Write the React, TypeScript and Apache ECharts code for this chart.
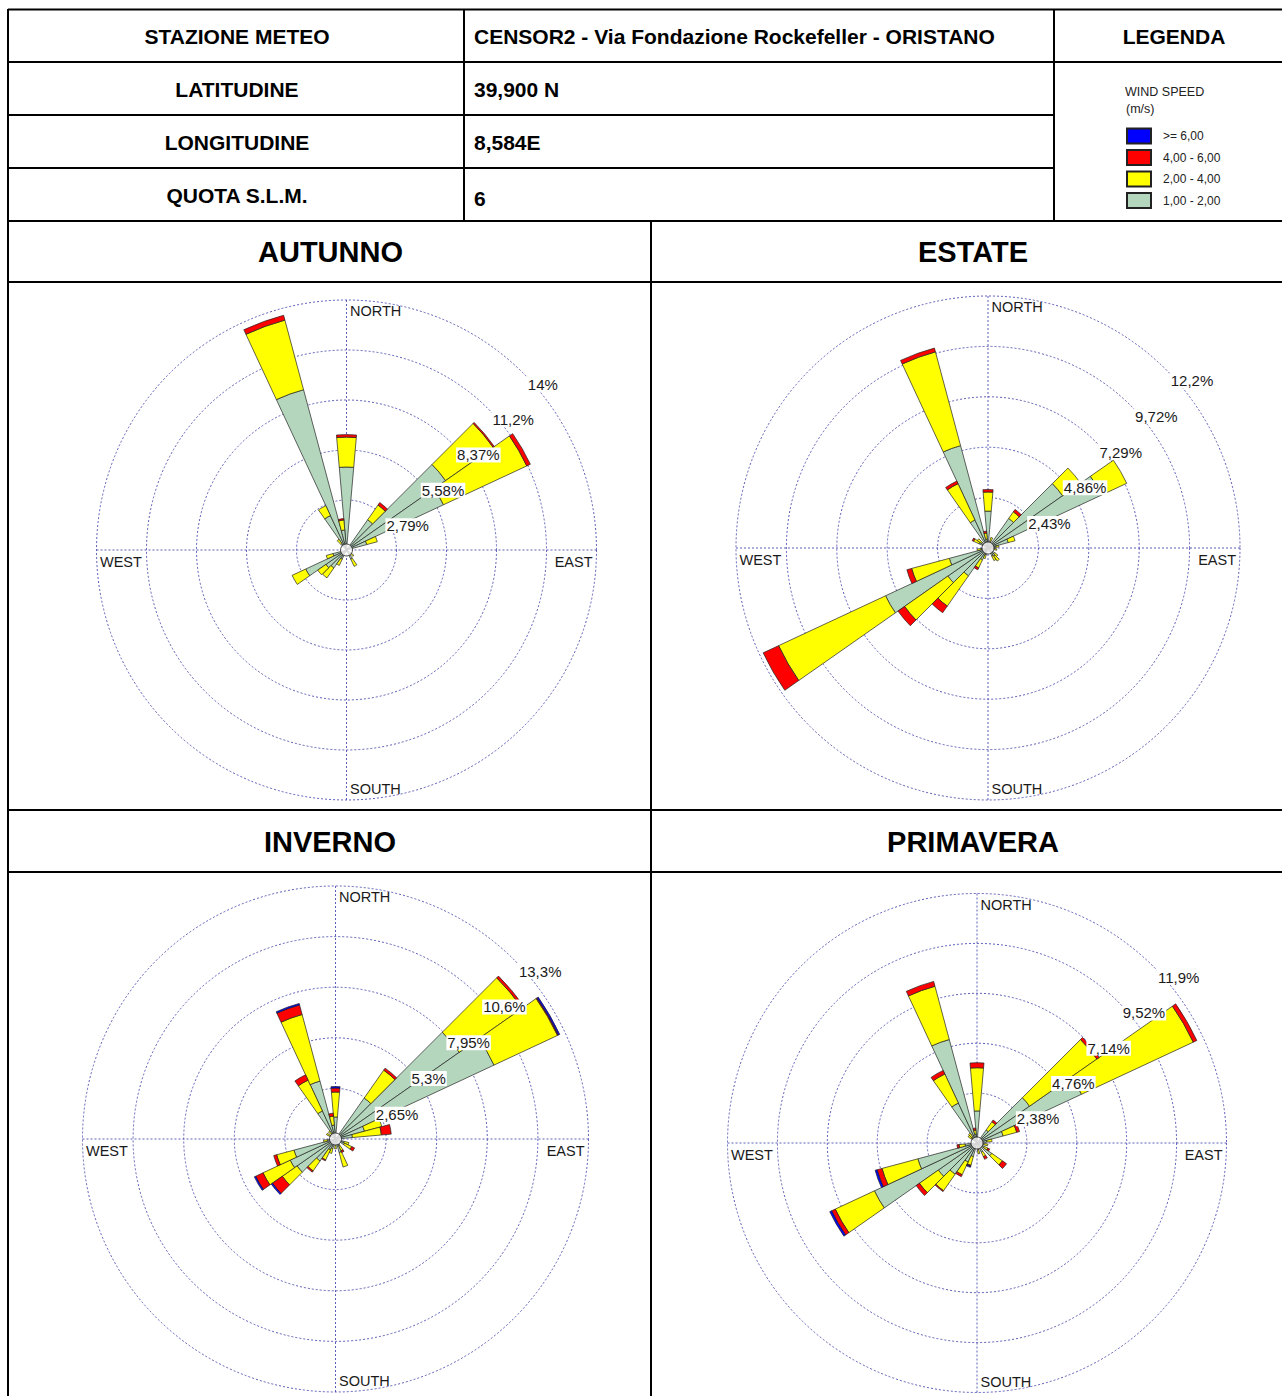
import React, { useEffect, useRef } from 'react';
import * as echarts from 'echarts';

const FONT = "'Liberation Sans', Arial, Helvetica, sans-serif";

// 36 wind directions (degrees clockwise from North)
const directions = [
  '0', '10', '20', '30', '40', '50', '60', '70', '80', '90',
  '100', '110', '120', '130', '140', '150', '160', '170', '180', '190',
  '200', '210', '220', '230', '240', '250', '260', '270', '280', '290',
  '300', '310', '320', '330', '340', '350',
];

const speedClasses = ['1,00 - 2,00', '2,00 - 4,00', '4,00 - 6,00', '>= 6,00'];
const legendOrder = ['>= 6,00', '4,00 - 6,00', '2,00 - 4,00', '1,00 - 2,00'];
const speedColors = ['#b4d6bd', '#ffff00', '#ff0000', '#0000ff'];
const compassLabels = ['NORTH', 'EAST', 'SOUTH', 'WEST'];

// ---------- AUTUNNO (frequency %) ----------
const autGreen = [4.63, 0, 0, 0, 2.06, 6.75, 5.97, 1.17, 0, 0, 0, 0, 0, 0.28, 0, 0.56, 0, 0, 0, 0, 0, 0.56, 1.23, 1.4, 2.51, 0.78, 0, 0, 0, 0, 0, 0, 0.45, 2.12, 9.26, 1.12];
const autYellow = [1.67, 0, 0, 0, 1.0, 3.24, 5.13, 0.61, 0, 0, 0, 0, 0, 0.22, 0, 0.45, 0, 0, 0, 0, 0, 0.39, 0.67, 0.56, 0.84, 0.39, 0, 0, 0, 0, 0, 0, 0.28, 0.61, 4.02, 0.56];
const autRed = [0.14, 0, 0, 0, 0.17, 0.08, 0.22, 0, 0, 0, 0, 0, 0, 0, 0, 0, 0, 0, 0, 0, 0, 0, 0, 0, 0, 0, 0, 0, 0, 0, 0, 0, 0, 0, 0.28, 0.08];
const autBlue = [0, 0, 0, 0, 0, 0, 0, 0, 0, 0, 0, 0, 0, 0, 0, 0, 0, 0, 0, 0, 0, 0, 0, 0, 0, 0, 0, 0, 0, 0, 0, 0, 0, 0, 0, 0];
const autTicks = ['2,79%', '5,58%', '8,37%', '11,2%', '14%'];

// ---------- ESTATE ----------
const estGreen = [1.78, 0, 0.34, 0, 1.74, 4.39, 6.03, 1.01, 0.39, 0, 0.29, 0, 0, 0.39, 0.48, 0.43, 0, 0, 0, 0, 0.34, 0.63, 1.64, 2.36, 5.45, 1.93, 0.34, 0, 0, 0, 0.48, 0.39, 0, 1.49, 5.11, 0.43];
const estYellow = [0.92, 0, 0.19, 0, 0.39, 1.06, 1.35, 0.34, 0.14, 0, 0.14, 0, 0, 0.19, 0.29, 0.24, 0, 0, 0, 0, 0.19, 0.43, 1.78, 2.55, 5.69, 1.88, 0.19, 0, 0, 0, 0.29, 0.24, 0, 1.93, 4.68, 0.29];
const estRed = [0.12, 0, 0, 0, 0.14, 0, 0, 0, 0, 0, 0, 0, 0, 0, 0, 0, 0, 0, 0, 0, 0, 0.1, 0.39, 0.39, 0.82, 0.24, 0, 0, 0, 0, 0.07, 0, 0, 0.14, 0.19, 0.1];
const estBlue = [0, 0, 0, 0, 0, 0, 0, 0, 0, 0, 0, 0, 0, 0, 0, 0, 0, 0, 0, 0, 0, 0, 0, 0, 0, 0, 0, 0, 0, 0, 0, 0, 0, 0, 0, 0];
const estTicks = ['2,43%', '4,86%', '7,29%', '9,72%', '12,2%'];

// ---------- INVERNO ----------
const invGreen = [1.15, 0, 0, 0, 2.62, 7.91, 9.16, 1.57, 0.89, 0, 0, 0.47, 0.52, 0, 0, 0.42, 0.73, 0, 0.31, 0, 0.52, 0.63, 1.41, 2.46, 2.62, 2.25, 0.42, 0, 0, 0, 0.31, 0, 0.31, 1.62, 3.14, 0.73];
const invYellow = [1.31, 0, 0, 0, 1.78, 4.03, 3.67, 0.94, 1.52, 0, 0, 0.26, 0.42, 0, 0, 0.26, 0.79, 0, 0.21, 0, 0.26, 0.58, 0.63, 0.94, 1.57, 0.94, 0.21, 0, 0, 0, 0.21, 0, 0.21, 1.78, 3.61, 0.47];
const invRed = [0.21, 0, 0, 0, 0.13, 0.13, 0.05, 0, 0.52, 0, 0, 0, 0.16, 0, 0, 0.1, 0, 0, 0, 0, 0, 0.05, 0.08, 0.63, 0.42, 0.16, 0, 0, 0, 0, 0, 0, 0, 0.31, 0.52, 0.16];
const invBlue = [0.08, 0, 0, 0, 0, 0, 0.08, 0, 0, 0, 0, 0, 0, 0, 0, 0, 0, 0, 0, 0, 0, 0, 0, 0.08, 0.08, 0, 0, 0, 0, 0, 0, 0, 0, 0, 0.08, 0];
const invTicks = ['2,65%', '5,3%', '7,95%', '10,6%', '13,3%'];

// ---------- PRIMAVERA ----------
const priGreen = [1.53, 0, 0, 0, 0.76, 3.06, 5.5, 1.29, 0.48, 0, 0.33, 0, 0.38, 0.86, 0, 0.48, 0, 0.33, 0, 0, 0.67, 1.0, 1.82, 2.25, 5.4, 2.92, 0.57, 0, 0, 0, 0, 0.33, 0.33, 2.1, 5.11, 0.43];
const priYellow = [2.06, 0, 0, 0, 0.48, 3.92, 5.88, 0.67, 0.24, 0, 0.19, 0, 0.19, 0.62, 0, 0.24, 0, 0.19, 0, 0, 0.43, 0.67, 0.96, 1.1, 2.06, 1.77, 0.29, 0, 0, 0, 0, 0.19, 0.24, 1.53, 2.63, 0.19];
const priRed = [0.24, 0, 0, 0, 0.1, 0.14, 0.19, 0.14, 0, 0, 0, 0, 0.1, 0.24, 0, 0.14, 0, 0, 0, 0, 0.05, 0.1, 0.05, 0.19, 0.19, 0.24, 0.1, 0, 0, 0, 0, 0, 0, 0.19, 0.24, 0.1];
const priBlue = [0, 0, 0, 0, 0, 0, 0, 0, 0, 0, 0, 0, 0, 0, 0, 0, 0, 0, 0, 0, 0.05, 0, 0, 0, 0.1, 0.1, 0, 0, 0, 0, 0, 0, 0, 0, 0, 0];
const priTicks = ['2,38%', '4,76%', '7,14%', '9,52%', '11,9%'];

// ---------- station table ----------
const tableLabels = ['STAZIONE METEO', 'LATITUDINE', 'LONGITUDINE', 'QUOTA S.L.M.'];
const tableValues = ['CENSOR2 - Via Fondazione Rockefeller - ORISTANO', '39,900 N', '8,584E', '6'];

const seasons = [
  { title: 'AUTUNNO', cx: 346.5, cy: 550, r: 250, max: 13.95, ticks: autTicks, data: [autGreen, autYellow, autRed, autBlue], tx: 330.5, ty: 252 },
  { title: 'ESTATE', cx: 988, cy: 548, r: 252, max: 12.15, ticks: estTicks, data: [estGreen, estYellow, estRed, estBlue], tx: 973, ty: 252 },
  { title: 'INVERNO', cx: 335.5, cy: 1139, r: 253, max: 13.25, ticks: invTicks, data: [invGreen, invYellow, invRed, invBlue], tx: 330, ty: 842 },
  { title: 'PRIMAVERA', cx: 977, cy: 1143, r: 249.5, max: 11.9, ticks: priTicks, data: [priGreen, priYellow, priRed, priBlue], tx: 973, ty: 842 },
];

const GRID_COLOR = '#5e5eb8';

function buildOption() {
  const polar: any[] = [];
  const angleAxis: any[] = [];
  const radiusAxis: any[] = [];
  const series: any[] = [];
  const graphic: any[] = [];

  seasons.forEach((s, si) => {
    const base = si * 3;
    for (let k = 0; k < 3; k++) polar.push({ center: [s.cx, s.cy], radius: [0, s.r] });

    // polar A : bars + rings
    angleAxis.push({
      polarIndex: base, type: 'category', data: directions, startAngle: 95, clockwise: true,
      boundaryGap: true, axisLine: { show: false }, axisTick: { show: false },
      axisLabel: { show: false }, splitLine: { show: false },
    });
    radiusAxis.push({
      polarIndex: base, type: 'value', min: 0, max: s.max, interval: s.max / 5,
      axisLine: { show: false }, axisTick: { show: false }, axisLabel: { show: false },
      splitLine: { show: true, lineStyle: { color: GRID_COLOR, type: [2, 2], width: 1 } },
    });
    // polar B : N/E/S/W crosshair
    angleAxis.push({
      polarIndex: base + 1, type: 'value', min: 0, max: 360, interval: 90, startAngle: 90, clockwise: true,
      axisLine: { show: false }, axisTick: { show: false }, axisLabel: { show: false },
      splitLine: { show: true, lineStyle: { color: GRID_COLOR, type: [2, 2], width: 1 } },
    });
    radiusAxis.push({
      polarIndex: base + 1, type: 'value', min: 0, max: 1,
      axisLine: { show: false }, axisTick: { show: false }, axisLabel: { show: false }, splitLine: { show: false },
    });
    // polar C : ring labels along NE
    angleAxis.push({
      polarIndex: base + 2, type: 'value', min: 0, max: 360, startAngle: 45, clockwise: true,
      axisLine: { show: false }, axisTick: { show: false }, axisLabel: { show: false }, splitLine: { show: false },
    });
    radiusAxis.push({
      polarIndex: base + 2, type: 'value', min: 0, max: s.max, interval: s.max / 5, z: 20,
      axisLine: { show: false }, axisTick: { show: false }, splitLine: { show: false },
      axisLabel: {
        show: true, margin: -5, align: 'left', verticalAlign: 'top',
        color: '#1a1a1a', fontSize: 15, fontFamily: FONT,
        backgroundColor: '#ffffff', padding: [0, 1],
        formatter: (_v: number, i: number) => (i === 0 ? '' : s.ticks[i - 1] || ''),
      },
    });

    s.data.forEach((arr, k) => {
      series.push({
        type: 'bar', coordinateSystem: 'polar', polarIndex: base, stack: 'rose' + si,
        name: speedClasses[k], barCategoryGap: '0%',
        data: arr.map((v) => (v > 0 ? v : '-')),
        itemStyle: { color: speedColors[k], borderColor: '#222222', borderWidth: 0.7 },
        z: 3,
      });
    });
    series.push({
      type: 'scatter', coordinateSystem: 'polar', polarIndex: base + 1,
      data: [[0, 0]], symbol: 'circle', symbolSize: 12, silent: true, z: 10,
      itemStyle: { color: '#ffffff', borderColor: '#222', borderWidth: 1 },
    });

    // compass labels
    const cpos = [
      { x: s.cx + 3.5, y: s.cy - s.r + 11, align: 'left' },
      { x: s.cx + s.r - 4, y: s.cy + 12, align: 'right' },
      { x: s.cx + 3.5, y: s.cy + s.r - 11, align: 'left' },
      { x: s.cx - s.r + 3.5, y: s.cy + 12, align: 'left' },
    ];
    compassLabels.forEach((t, i) => {
      graphic.push({
        type: 'text', z: 30,
        style: { text: t, x: cpos[i].x, y: cpos[i].y, align: cpos[i].align, verticalAlign: 'middle', fill: '#1a1a1a', font: `14.5px ${FONT}` },
      });
    });
    // season title
    graphic.push({
      type: 'text', z: 30,
      style: { text: s.title, x: s.tx, y: s.ty, align: 'center', verticalAlign: 'middle', fill: '#000', font: `bold 29px ${FONT}` },
    });
  });

  // table lines
  const hLines = [[8, 1282, 9.5], [8, 1282, 62], [8, 1054, 115], [8, 1054, 168], [8, 1282, 221], [8, 1282, 282], [8, 1282, 810], [8, 1282, 872]];
  const vLines = [[8, 9, 1396], [464, 9, 221], [1054, 9, 221], [651, 221, 1396]];
  hLines.forEach(([x1, x2, y]) => graphic.push({ type: 'line', z: 40, shape: { x1, y1: y, x2, y2: y }, style: { stroke: '#000', lineWidth: 2 } }));
  vLines.forEach(([x, y1, y2]) => graphic.push({ type: 'line', z: 40, shape: { x1: x, y1, x2: x, y2 }, style: { stroke: '#000', lineWidth: 2 } }));

  const rowY = [36, 89, 142, 195];
  tableLabels.forEach((t, i) => {
    graphic.push({ type: 'text', z: 30, style: { text: t, x: 237, y: rowY[i], align: 'center', verticalAlign: 'middle', fill: '#000', font: `bold 21px ${FONT}` } });
  });
  tableValues.forEach((t, i) => {
    graphic.push({ type: 'text', z: 30, style: { text: t, x: 474, y: rowY[i] + (i === 3 ? 3 : 0), align: 'left', verticalAlign: 'middle', fill: '#000', font: `bold 21px ${FONT}` } });
  });
  graphic.push({ type: 'text', z: 30, style: { text: 'LEGENDA', x: 1174, y: 36, align: 'center', verticalAlign: 'middle', fill: '#000', font: `bold 21px ${FONT}` } });
  graphic.push({ type: 'text', z: 30, style: { text: 'WIND SPEED', x: 1125, y: 92, align: 'left', verticalAlign: 'middle', fill: '#222', font: `12.5px ${FONT}` } });
  graphic.push({ type: 'text', z: 30, style: { text: '(m/s)', x: 1126, y: 109, align: 'left', verticalAlign: 'middle', fill: '#222', font: `12.5px ${FONT}` } });

  return {
    animation: false,
    backgroundColor: '#ffffff',
    legend: {
      data: legendOrder, orient: 'vertical', left: 1126, top: 127.5, padding: 0,
      itemWidth: 24, itemHeight: 15, itemGap: 4.5, icon: 'rect', selectedMode: false,
      textStyle: { fontSize: 12, lineHeight: 13, color: '#222', fontFamily: FONT, padding: [0, 0, 0, 7] },
    },
    polar, angleAxis, radiusAxis, series, graphic,
  };
}

export default function App() {
  const ref = useRef<HTMLDivElement>(null);
  useEffect(() => {
    if (!ref.current) return;
    const chart = echarts.init(ref.current, undefined, { renderer: 'svg' });
    chart.setOption(buildOption() as any);
    return () => chart.dispose();
  }, []);
  return (
    <div
      ref={ref}
      style={{ position: 'absolute', left: 0, top: 0, width: 1282, height: 1396, background: '#fff' }}
    />
  );
}
